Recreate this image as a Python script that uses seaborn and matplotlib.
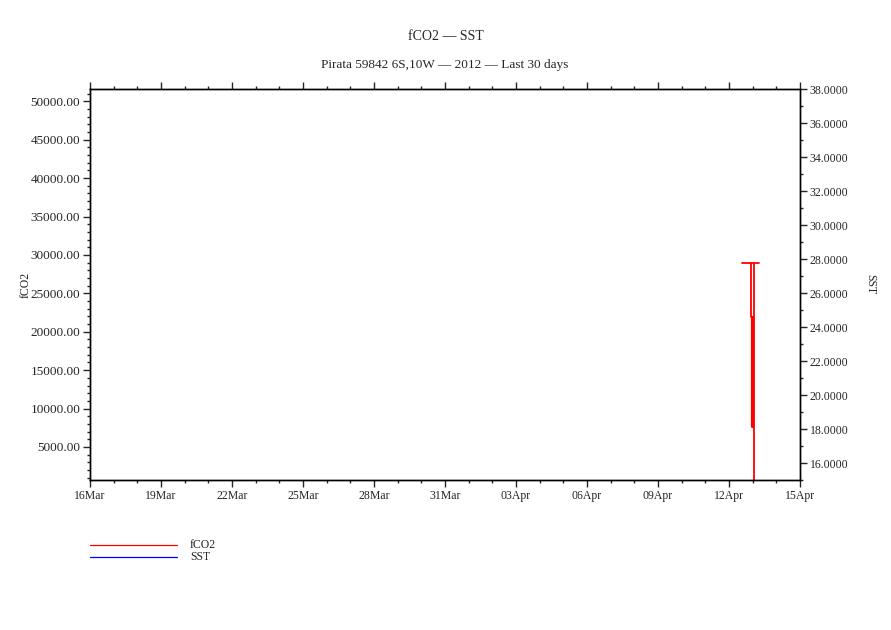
import numpy as np
import pandas as pd
import seaborn as sns
import matplotlib.pyplot as plt
import matplotlib.dates as mdates
from matplotlib.lines import Line2D
from matplotlib.ticker import MultipleLocator, FormatStrFormatter

sns.set_style('ticks')
plt.rcParams['font.family'] = ['Liberation Serif', 'DejaVu Serif']

# fCO2 trace near 13 Apr, drawn as separate segments
seg_id = [1, 1, 2, 2, 3, 3]
seg_time = ['2012-04-12 13:00', '2012-04-13 06:00',
            '2012-04-12 22:00', '2012-04-12 22:00',
            '2012-04-13 01:00', '2012-04-13 01:00']
seg_fco2 = [28900, 28900, 28900, 21900, 28900, 0]

thick_time = ['2012-04-12 23:30', '2012-04-12 23:30']
thick_fco2 = [21900, 7750]

legend_names = ['fCO2', 'SST']
legend_colors = ['#ff0000', '#0000ff']

df = pd.DataFrame({'seg': seg_id, 'time': pd.to_datetime(seg_time), 'fCO2': seg_fco2})
df_thick = pd.DataFrame({'time': pd.to_datetime(thick_time), 'fCO2': thick_fco2})

fig = plt.figure(figsize=(8.91, 6.30), dpi=100)
ax = fig.add_axes([90 / 891, 1 - 480 / 630, 710 / 891, 391 / 630])

sns.lineplot(data=df, x='time', y='fCO2', units='seg', estimator=None, sort=False,
             color='#ff0000', lw=1.3, ax=ax, legend=False)
sns.lineplot(data=df_thick, x='time', y='fCO2', estimator=None, sort=False,
             color='#ff0000', lw=2.3, ax=ax, legend=False)

ax.set_xlim(pd.Timestamp('2012-03-16'), pd.Timestamp('2012-04-15'))
ax.set_ylim(700, 51600)
ax.set_xticks(pd.date_range('2012-03-16', '2012-04-15', freq='3D'))
ax.xaxis.set_major_formatter(mdates.DateFormatter('%d%b'))
ax.xaxis.set_minor_locator(mdates.DayLocator())
ax.set_yticks(np.arange(5000, 50001, 5000))
ax.yaxis.set_minor_locator(MultipleLocator(1000))
ax.yaxis.set_major_formatter(FormatStrFormatter('%.2f'))
ax.tick_params(which='major', direction='out', length=5, width=1, pad=2)
ax.tick_params(which='minor', direction='out', length=2.5, width=1)
ax.tick_params(axis='x', which='both', top=True, labelsize=8.5)
ax.tick_params(axis='y', labelsize=9.5)
ax.set_xlabel('')
ax.set_ylabel('fCO2', fontsize=8.5, labelpad=-1)
for s in ax.spines.values():
    s.set_linewidth(1)
    s.set_color('black')

ax2 = ax.twinx()
ax2.set_ylim(15, 38)
ax2.set_yticks(np.arange(16, 38.1, 2))
ax2.yaxis.set_minor_locator(MultipleLocator(1))
ax2.yaxis.set_major_formatter(FormatStrFormatter('%.4f'))
ax2.tick_params(which='major', direction='out', length=5, width=1, labelsize=8.5, pad=2)
ax2.tick_params(which='minor', direction='out', length=2.5, width=1)
ax2.set_ylabel('SST', fontsize=8.5, rotation=270, labelpad=20)
for s in ax2.spines.values():
    s.set_linewidth(1)
    s.set_color('black')

fig.text(446 / 891, 1 - 36 / 630, 'fCO2 \u2014 SST', ha='center', va='center', fontsize=10)
fig.text(445 / 891, 1 - 65 / 630, 'Pirata 59842 6S,10W \u2014 2012 \u2014 Last 30 days',
         ha='center', va='center', fontsize=9.5)

for i, (name, col) in enumerate(zip(legend_names, legend_colors)):
    yy = 1 - (545 + 12 * i) / 630
    fig.add_artist(Line2D([90 / 891, 177 / 891], [yy, yy], color=col, lw=0.9,
                          transform=fig.transFigure))
    fig.text(190 / 891, yy, name, ha='left', va='center', fontsize=8.5)

fig.savefig('out.png', dpi=100)
